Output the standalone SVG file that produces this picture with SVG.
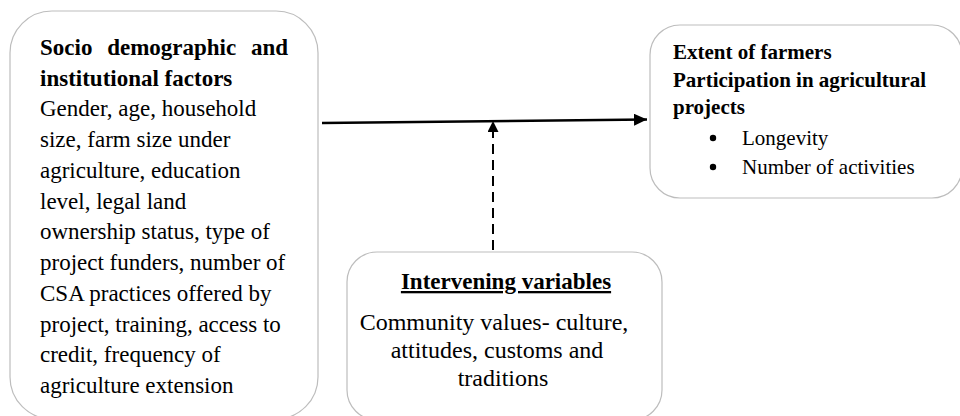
<svg xmlns="http://www.w3.org/2000/svg" width="960" height="416" viewBox="0 0 960 416">
<style>
.box{fill:#ffffff;stroke:#bdbdbd;stroke-width:1.2}
.t{font-family:"Liberation Serif","Times New Roman",serif;fill:#000}
.b{font-weight:bold}
.l{font-size:23px}
.r{font-size:21px}
.m{font-size:24px}
.conn{stroke:#000;fill:none}
</style>
<defs>
<marker id="ah" markerUnits="userSpaceOnUse" markerWidth="14" markerHeight="12" refX="13" refY="6" orient="auto">
<path d="M0,0 L13,6 L0,12 Z" fill="#000"/>
</marker>
<marker id="ah2" markerUnits="userSpaceOnUse" markerWidth="12" markerHeight="12" refX="11" refY="5.5" orient="auto">
<path d="M0,0 L11,5.5 L0,11 Z" fill="#000"/>
</marker>
</defs>
<rect width="960" height="416" fill="#ffffff"/>

<g id="socio">
<rect class="box" x="10" y="11" width="308" height="408" rx="42" ry="42"/>
<text class="t b l" x="40" y="55" word-spacing="9">Socio demographic and</text>
<text class="t b l" x="40" y="86">institutional factors</text>
<text class="t l" x="40" y="116">Gender, age, household</text>
<text class="t l" x="40" y="147">size, farm size under</text>
<text class="t l" x="40" y="178">agriculture, education</text>
<text class="t l" x="40" y="209">level, legal land</text>
<text class="t l" x="40" y="239">ownership status, type of</text>
<text class="t l" x="40" y="270">project funders, number of</text>
<text class="t l" x="40" y="301">CSA practices offered by</text>
<text class="t l" x="40" y="332">project, training, access to</text>
<text class="t l" x="40" y="362">credit, frequency of</text>
<text class="t l" x="40" y="393">agriculture extension</text>
</g>

<g id="extent">
<rect class="box" x="650" y="25" width="312" height="173" rx="30" ry="30"/>
<text class="t b r" x="673" y="59">Extent of farmers</text>
<text class="t b r" x="673" y="87">Participation in agricultural</text>
<text class="t b r" x="673" y="114">projects</text>
<circle cx="713" cy="138" r="3.2" fill="#000"/>
<text class="t r" x="742" y="145">Longevity</text>
<circle cx="713" cy="167" r="3.2" fill="#000"/>
<text class="t r" x="742" y="174">Number of activities</text>
</g>

<g id="intervening">
<rect class="box" x="347" y="252" width="315" height="168" rx="30" ry="30"/>
<text class="t b l" x="506" y="289" text-anchor="middle" text-decoration="underline">Intervening variables</text>
<text class="t m" x="494" y="330" text-anchor="middle">Community values- culture,</text>
<text class="t m" x="497" y="358" text-anchor="middle">attitudes, customs and</text>
<text class="t m" x="503" y="386" text-anchor="middle">traditions</text>
</g>

<g id="connectors">
<line class="conn" x1="322" y1="123" x2="647" y2="119.5" stroke-width="2.6" marker-end="url(#ah)"/>
<line class="conn" x1="493" y1="250" x2="493" y2="121" stroke-width="2" stroke-dasharray="10,6" marker-end="url(#ah2)"/>
</g>
</svg>
